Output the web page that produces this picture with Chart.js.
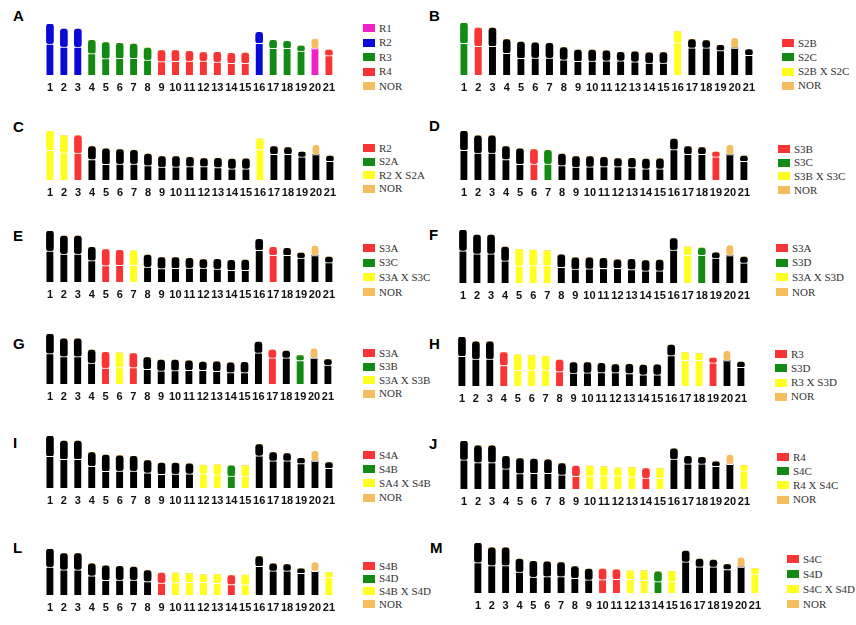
<!DOCTYPE html>
<html>
<head>
<meta charset="utf-8">
<script src="https://cdn.jsdelivr.net/npm/chart.js@4.4.1/dist/chart.umd.min.js"></script>
<style>
    body { margin: 0; background: #fff; width: 856px; height: 625px; position: relative; overflow: hidden; }
    .panel { position: absolute; }
    .letter { position: absolute; font-family: "Liberation Sans", Arial, sans-serif; font-weight: bold; font-size: 15px; line-height: 15px; color: #000; }
    .legend { position: absolute; font-family: "Liberation Serif", "DejaVu Serif", "Times New Roman", serif; font-size: 11px; line-height: 11px; color: #333; }
    .legend .item { position: absolute; left: 0; white-space: nowrap; display: flex; align-items: center; height: 11px; }
    .legend .box { display: inline-block; width: 12px; height: 8px; margin-right: 4px; }
</style>
</head>
<body>
<script>
// chromosomes 1..21
const chromLabels = ['1','2','3','4','5','6','7','8','9','10','11','12','13','14','15','16','17','18','19','20','21'];
// long arm (bottom), short arm (top), NOR on chr20 - relative lengths
const qArm = [93, 84, 84, 64, 49, 50, 50, 45, 40, 41, 42, 42, 39, 35, 35, 95, 80, 80, 72, 79, 58];
const pArm = [60, 54, 54, 40, 48, 45, 43, 36, 33, 32, 29, 25, 29, 30, 31, 33, 24, 21, 15, 0, 17];
const norArm = [0, 0, 0, 0, 0, 0, 0, 0, 0, 0, 0, 0, 0, 0, 0, 0, 0, 0, 0, 30, 0];

// colour code of each chromosome per panel
const colorsA = ['b','b','b','g','g','g','g','g','r','r','r','r','r','r','r','b','g','g','g','m','r'];
const colorsB = ['g','r','k','k','k','k','k','k','k','k','k','k','k','k','k','y','k','k','k','k','k'];
const colorsC = ['y','y','r','k','k','k','k','k','k','k','k','k','k','k','k','y','k','k','k','k','k'];
const colorsD = ['k','k','k','k','k','r','g','k','k','k','k','k','k','k','k','k','k','k','r','k','k'];
const colorsE = ['k','k','k','k','r','r','y','k','k','k','k','k','k','k','k','k','r','k','k','k','k'];
const colorsF = ['k','k','k','k','y','y','y','k','k','k','k','k','k','k','k','k','y','g','k','k','k'];
const colorsG = ['k','k','k','k','r','y','r','k','k','k','k','k','k','k','k','k','r','k','g','k','k'];
const colorsH = ['k','k','k','r','y','y','y','r','k','k','k','k','k','k','k','k','y','y','r','k','k'];
const colorsI = ['k','k','k','k','k','k','k','k','k','k','k','y','y','g','y','k','k','k','k','k','k'];
const colorsJ = ['k','k','k','k','k','k','k','k','r','y','y','y','y','r','y','k','k','k','k','k','y'];
const colorsL = ['k','k','k','k','k','k','k','k','r','y','y','y','y','r','y','k','k','k','k','k','y'];
const colorsM = ['k','k','k','k','k','k','k','k','k','r','r','y','y','g','y','k','k','k','k','k','y'];

// legend entries per panel
const legendA = [['m','R1'], ['b','R2'], ['g','R3'], ['r','R4'], ['n','NOR']];
const legendB = [['r','S2B'], ['g','S2C'], ['y','S2B X S2C'], ['n','NOR']];
const legendC = [['r','R2'], ['g','S2A'], ['y','R2 X S2A'], ['n','NOR']];
const legendD = [['r','S3B'], ['g','S3C'], ['y','S3B X S3C'], ['n','NOR']];
const legendE = [['r','S3A'], ['g','S3C'], ['y','S3A X S3C'], ['n','NOR']];
const legendF = [['r','S3A'], ['g','S3D'], ['y','S3A X S3D'], ['n','NOR']];
const legendG = [['r','S3A'], ['g','S3B'], ['y','S3A X S3B'], ['n','NOR']];
const legendH = [['r','R3'], ['g','S3D'], ['y','R3 X S3D'], ['n','NOR']];
const legendI = [['r','S4A'], ['g','S4B'], ['y','SA4 X S4B'], ['n','NOR']];
const legendJ = [['r','R4'], ['g','S4C'], ['y','R4 X S4C'], ['n','NOR']];
const legendL = [['r','S4B'], ['g','S4D'], ['y','S4B X S4D'], ['n','NOR']];
const legendM = [['r','S4C'], ['g','S4D'], ['y','S4C X S4D'], ['n','NOR']];

const palette = {
    k: '#000000', r: '#f83434', g: '#138a13', y: '#ffff22',
    b: '#0a0ad6', m: '#ee22c8', n: '#f6bd5e'
};

// layout: chr1 / chr21 centre x, chromosome top and baseline, legend, letter
const panels = [
    { id: 'A', colors: colorsA, legend: legendA, x1: 48,  x21: 334, top: 24,  base: 75,  lx: 363, ly: 28,  ls: 14.5, tx: 13,  ty: 10 },
    { id: 'B', colors: colorsB, legend: legendB, x1: 462, x21: 753, top: 23,  base: 75,  lx: 782, ly: 43,  ls: 14.3, tx: 429, ty: 10 },
    { id: 'C', colors: colorsC, legend: legendC, x1: 48,  x21: 335, top: 131, base: 180, lx: 363, ly: 148, ls: 13.5, tx: 13,  ty: 121 },
    { id: 'D', colors: colorsD, legend: legendD, x1: 462, x21: 749, top: 131, base: 180, lx: 778, ly: 149, ls: 13.7, tx: 429, ty: 120 },
    { id: 'E', colors: colorsE, legend: legendE, x1: 48,  x21: 334, top: 231, base: 282, lx: 363, ly: 248, ls: 14.7, tx: 13,  ty: 230 },
    { id: 'F', colors: colorsF, legend: legendF, x1: 461, x21: 749, top: 230, base: 283, lx: 776, ly: 248, ls: 14.7, tx: 429, ty: 229 },
    { id: 'G', colors: colorsG, legend: legendG, x1: 48,  x21: 333, top: 334, base: 384, lx: 363, ly: 353, ls: 13.5, tx: 13,  ty: 338 },
    { id: 'H', colors: colorsH, legend: legendH, x1: 460, x21: 746, top: 337, base: 386, lx: 775, ly: 354, ls: 14.3, tx: 429, ty: 338 },
    { id: 'I', colors: colorsI, legend: legendI, x1: 48,  x21: 334, top: 436, base: 488, lx: 363, ly: 455, ls: 14.2, tx: 13,  ty: 437 },
    { id: 'J', colors: colorsJ, legend: legendJ, x1: 462, x21: 749, top: 441, base: 489, lx: 777, ly: 457, ls: 14.2, tx: 429, ty: 438 },
    { id: 'L', colors: colorsL, legend: legendL, x1: 48,  x21: 334, top: 549, base: 595, lx: 363, ly: 566, ls: 12.7, tx: 13,  ty: 542 },
    { id: 'M', colors: colorsM, legend: legendM, x1: 476, x21: 760, top: 543, base: 593, lx: 787, ly: 559, ls: 15,   tx: 430, ty: 542 }
];

const AXIS_H = 22;

function makePanel(p) {
    const step = (p.x21 - p.x1) / 20;
    const w = Math.round(step * 21);
    const h = p.base - p.top + AXIS_H;

    const wrap = document.createElement('div');
    wrap.className = 'panel';
    wrap.style.left = (p.x1 - step / 2) + 'px';
    wrap.style.top = p.top + 'px';
    wrap.style.width = w + 'px';
    wrap.style.height = h + 'px';
    const canvas = document.createElement('canvas');
    canvas.width = w;
    canvas.height = h;
    wrap.appendChild(canvas);
    document.body.appendChild(wrap);

    const cols = p.colors.map(c => palette[c]);
    const barStyle = { barThickness: 7, borderSkipped: false, borderRadius: 3 };

    new Chart(canvas.getContext('2d'), {
        type: 'bar',
        data: {
            labels: chromLabels,
            datasets: [
                Object.assign({ data: qArm, backgroundColor: cols, borderColor: '#ffffff',
                    borderWidth: { top: 1, left: 0, right: 0, bottom: 0 } }, barStyle),
                Object.assign({ data: pArm, backgroundColor: cols, borderWidth: 0 }, barStyle),
                Object.assign({ data: norArm, backgroundColor: palette.n, borderColor: '#ffffff',
                    borderWidth: { top: 0, left: 0, right: 0, bottom: 1 } }, barStyle)
            ]
        },
        options: {
            responsive: false,
            animation: false,
            layout: { padding: 0 },
            plugins: { legend: { display: false }, tooltip: { enabled: false } },
            scales: {
                x: {
                    stacked: true,
                    grid: { display: false, drawTicks: false },
                    border: { display: false },
                    ticks: {
                        color: '#111',
                        padding: 6,
                        autoSkip: false,
                        maxRotation: 0,
                        font: { family: '"Liberation Sans", Arial, sans-serif', size: 11, weight: 'bold' }
                    },
                    afterFit: (scale) => { scale.height = AXIS_H; }
                },
                y: { stacked: true, display: false, min: 0, max: 153 }
            }
        }
    });

    // panel letter
    const letter = document.createElement('div');
    letter.className = 'letter';
    letter.textContent = p.id;
    letter.style.left = p.tx + 'px';
    letter.style.top = (p.ty - 2) + 'px';
    document.body.appendChild(letter);

    // legend
    const lg = document.createElement('div');
    lg.className = 'legend';
    lg.style.left = p.lx + 'px';
    lg.style.top = '0px';
    p.legend.forEach(([c, text], i) => {
        const item = document.createElement('div');
        item.className = 'item';
        item.style.top = (p.ly + i * p.ls - 5.5) + 'px';
        const box = document.createElement('span');
        box.className = 'box';
        box.style.background = palette[c];
        item.appendChild(box);
        item.appendChild(document.createTextNode(text));
        lg.appendChild(item);
    });
    document.body.appendChild(lg);
}

panels.forEach(makePanel);
</script>
</body>
</html>
